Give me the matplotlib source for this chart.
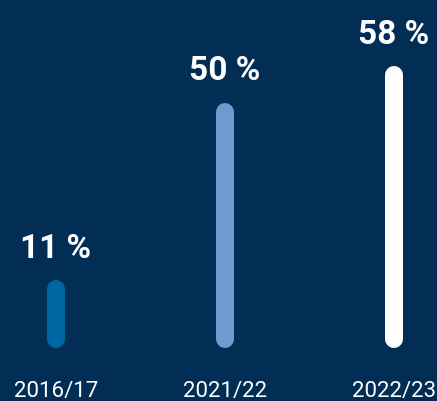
import matplotlib
matplotlib.use("Agg")
from matplotlib import pyplot as plt
from matplotlib import transforms

years = ["2016/17", "2021/22", "2022/23"]
shares = [11, 50, 58]
colors = ["#0067A5", "#6D9BD0", "#FFFFFF"]
bg = "#022D55"

W, H, DPI = 437, 401, 100
fig = plt.figure(figsize=(W / DPI, H / DPI), dpi=DPI, facecolor=bg)
ax = fig.add_axes([0, 0, 1, 1])
ax.set_facecolor(bg)
ax.axis("off")

# pixel mapping: bars every 169 px starting at 56, base at 339 px, 4.55 px per %
step, x0, base, scale = 169.0, 56.0, 339.0, 4.55
ax.set_xlim(-x0 / step, (W - x0) / step)
ax.set_ylim(-(H - base) / scale, base / scale)

lw = 18 * 72 / DPI
for i, (v, c) in enumerate(zip(shares, colors)):
    ax.plot([i, i], [0, v], color=c, lw=lw, solid_capstyle="round")
    ax.annotate(f"{v} %", (i, v), xytext=(0, 31 * 72 / DPI), textcoords="offset points",
                ha="center", va="baseline", color="white", fontsize=24,
                fontweight="bold", family="Roboto")

tr = transforms.blended_transform_factory(ax.transData, ax.transAxes)
for i, y in enumerate(years):
    ax.text(i, 3.5 / H, y, transform=tr, ha="center", va="baseline",
            color="white", fontsize=16, family="Roboto")

fig.savefig("out.png", dpi=DPI, facecolor=bg)
